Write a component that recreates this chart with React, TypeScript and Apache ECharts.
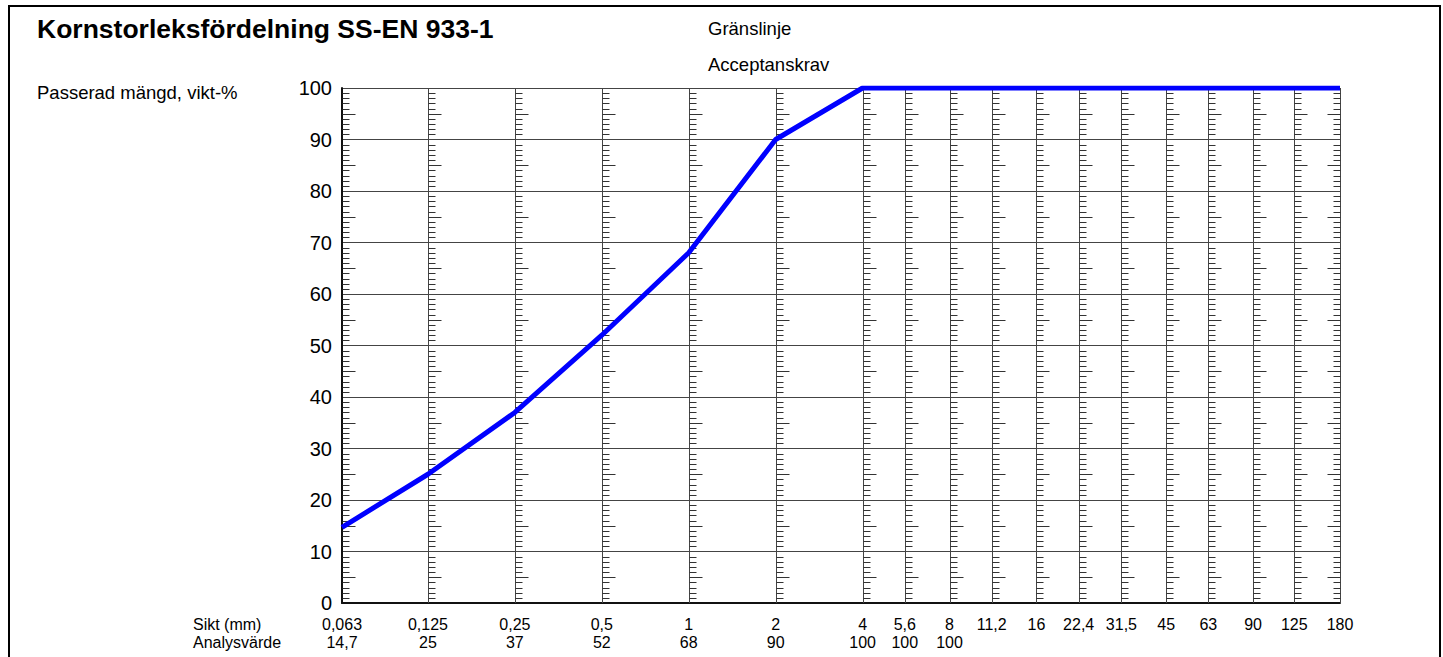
import React, { useEffect, useRef } from "react";
import * as echarts from "echarts";

// ---- data ----
const sieveSizes = [0.063, 0.125, 0.25, 0.5, 1, 2, 4, 5.6, 8, 11.2, 16, 22.4, 31.5, 45, 63, 90, 125, 180];
const sieveLabels = ["0,063", "0,125", "0,25", "0,5", "1", "2", "4", "5,6", "8", "11,2", "16", "22,4", "31,5", "45", "63", "90", "125", "180"];
const analysisLabels = ["14,7", "25", "37", "52", "68", "90", "100", "100", "100"];
const passingCurve = [14.7, 25, 37, 52, 68, 90, 100, 100, 100, 100, 100, 100, 100, 100, 100, 100, 100, 100];

const titleText = "Kornstorleksfördelning SS-EN 933-1";
const yAxisTitle = "Passerad mängd, vikt-%";
const legendItems = ["Gränslinje", "Acceptanskrav"];
const rowHeaders = ["Sikt (mm)", "Analysvärde"];

const FONT = "'Liberation Sans', Arial, Helvetica, sans-serif";

function nearestSieve(v: number): number {
  let best = 0;
  let bestD = Infinity;
  for (let i = 0; i < sieveSizes.length; i++) {
    const d = Math.abs(Math.log(v) - Math.log(sieveSizes[i]));
    if (d < bestD) {
      bestD = d;
      best = i;
    }
  }
  return best;
}

export default function App() {
  const ref = useRef<HTMLDivElement>(null);

  useEffect(() => {
    if (!ref.current) return;
    const chart = echarts.init(ref.current, undefined, { renderer: "svg" });

    const option: any = {
      animation: false,
      backgroundColor: "#ffffff",
      textStyle: { fontFamily: FONT, color: "#000" },
      grid: { left: 342, right: 103, top: 88, bottom: 54, containLabel: false },
      xAxis: {
        type: "log",
        logBase: 2,
        min: 0.063,
        max: 180,
        axisLine: { show: true, onZero: false, lineStyle: { color: "#111", width: 2 } },
        axisTick: { show: false, customValues: sieveSizes },
        splitLine: { show: false },
        minorTick: { show: false },
        minorSplitLine: { show: false },
        axisLabel: {
          customValues: sieveSizes,
          fontFamily: FONT,
          fontSize: 16,
          lineHeight: 18,
          margin: 12,
          color: "#000",
          formatter: (value: number) => {
            const i = nearestSieve(value);
            return i < analysisLabels.length
              ? sieveLabels[i] + "\n" + analysisLabels[i]
              : sieveLabels[i];
          },
        },
      },
      yAxis: {
        type: "value",
        min: 0,
        max: 100,
        interval: 10,
        axisLine: { show: true, lineStyle: { color: "#111", width: 2 } },
        axisTick: { show: false },
        splitLine: { show: true, lineStyle: { color: "#444", width: 1 } },
        axisLabel: { fontFamily: FONT, fontSize: 20, color: "#000", margin: 10 },
      },
      graphic: [
        {
          type: "rect",
          silent: true,
          z: -10,
          shape: { x: 9, y: 6, width: 1431, height: 720 },
          style: { fill: "none", stroke: "#000", lineWidth: 2 },
        },
        {
          type: "text",
          left: 37,
          top: 15,
          style: { text: titleText, font: `bold 26.5px ${FONT}`, fill: "#000" },
        },
        {
          type: "text",
          left: 37,
          top: 83,
          style: { text: yAxisTitle, font: `18.5px ${FONT}`, fill: "#000" },
        },
        {
          type: "text",
          left: 708,
          top: 19,
          style: { text: legendItems[0], font: `18.5px ${FONT}`, fill: "#000" },
        },
        {
          type: "text",
          left: 708,
          top: 55,
          style: { text: legendItems[1], font: `18.5px ${FONT}`, fill: "#000" },
        },
        {
          type: "text",
          left: 193,
          top: 616,
          style: { text: rowHeaders[0], font: `16px ${FONT}`, fill: "#000" },
        },
        {
          type: "text",
          left: 193,
          top: 634,
          style: { text: rowHeaders[1], font: `16px ${FONT}`, fill: "#000" },
        },
      ],
      series: [
        {
          type: "custom",
          silent: true,
          z: 1,
          clip: false,
          encode: { x: 0, y: 1 },
          data: sieveSizes.map((s) => [s, 0]),
          renderItem: (params: any, api: any) => {
            const size = api.value(0);
            const idx = params.dataIndex;
            const last = idx === sieveSizes.length - 1;
            const dir = last ? -1 : 1;
            const top = api.coord([size, 100]);
            const bot = api.coord([size, 0]);
            const x = Math.round(top[0]) + 0.5;
            const children: any[] = [];
            if (idx > 0) {
              children.push({
                type: "line",
                shape: { x1: x, y1: top[1], x2: x, y2: bot[1] },
                style: { stroke: "#444", lineWidth: 1 },
              });
            }
            for (let v = 1; v < 100; v++) {
              if (v % 10 === 0) continue;
              const p = api.coord([size, v]);
              const y = Math.round(p[1]) + 0.5;
              const len = v % 5 === 0 ? 13 : 7;
              children.push({
                type: "line",
                shape: { x1: x, y1: y, x2: x + dir * len, y2: y },
                style: { stroke: "#333", lineWidth: 1 },
              });
            }
            return { type: "group", children };
          },
        },
        {
          type: "line",
          z: 5,
          symbol: "none",
          silent: true,
          lineStyle: { color: "#0000ff", width: 5 },
          data: sieveSizes.map((s, i) => [s, passingCurve[i]]),
        },
      ],
    };

    chart.setOption(option);
    return () => chart.dispose();
  }, []);

  return (
    <div
      ref={ref}
      style={{ position: "fixed", left: 0, top: 0, width: 1443, height: 657, background: "#fff" }}
    />
  );
}
